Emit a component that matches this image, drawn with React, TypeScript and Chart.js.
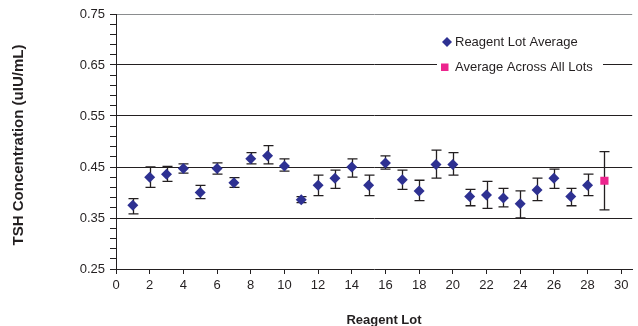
import React, { useEffect, useRef } from "react";
import { Chart, registerables } from "chart.js";

Chart.register(...registerables);

const lots = [1, 2, 3, 4, 5, 6, 7, 8, 9, 10, 11, 12, 13, 14, 15, 16, 17, 18, 19, 20, 21, 22, 23, 24, 25, 26, 27, 28];
const lotAvg = [0.375, 0.430, 0.436, 0.447, 0.400, 0.447, 0.419, 0.466, 0.472, 0.452, 0.386, 0.414, 0.428, 0.450, 0.414, 0.458, 0.425, 0.403, 0.455, 0.455, 0.392, 0.395, 0.389, 0.378, 0.405, 0.428, 0.392, 0.414];
const lotHigh = [0.388, 0.450, 0.451, 0.456, 0.414, 0.458, 0.429, 0.478, 0.492, 0.466, 0.392, 0.434, 0.444, 0.466, 0.434, 0.472, 0.444, 0.424, 0.483, 0.478, 0.406, 0.422, 0.408, 0.403, 0.428, 0.446, 0.408, 0.436];
const lotLow = [0.358, 0.410, 0.422, 0.438, 0.388, 0.436, 0.410, 0.456, 0.456, 0.442, 0.380, 0.394, 0.408, 0.430, 0.394, 0.446, 0.406, 0.384, 0.428, 0.434, 0.374, 0.369, 0.372, 0.350, 0.384, 0.408, 0.374, 0.394];

const allLotsX = [29];
const allLotsAvg = [0.423];
const allLotsHigh = [0.480];
const allLotsLow = [0.366];

const xTicks = [0, 2, 4, 6, 8, 10, 12, 14, 16, 18, 20, 22, 24, 26, 28, 30];
const yMajorTicks = [0.25, 0.35, 0.45, 0.55, 0.65, 0.75];
const yMinorStep = 0.02;

const seriesLabels = ["Reagent Lot Average", "Average Across All Lots"];
const xTitle = "Reagent Lot";
const yTitle = "TSH Concentration (uIU/mL)";

const INK = "#231F20";
const BLUE = "#2E3192";
const PINK = "#EC258E";
const FONT = "'Liberation Sans', Arial, Helvetica, sans-serif";

const isMajor = (v: number) => yMajorTicks.some((m) => Math.abs(m - v) < 1e-6);

const errorBarPlugin = {
  id: "errorBars",
  beforeDatasetsDraw(chart: any) {
    const ctx = chart.ctx;
    const yScale = chart.scales.y;
    ctx.save();
    ctx.strokeStyle = INK;
    ctx.lineWidth = 1.3;
    chart.data.datasets.forEach((ds: any, i: number) => {
      const meta = chart.getDatasetMeta(i);
      meta.data.forEach((pt: any, j: number) => {
        const hi = yScale.getPixelForValue(ds.errHigh[j]);
        const lo = yScale.getPixelForValue(ds.errLow[j]);
        const x = Math.round(pt.x) + 0.5;
        const cap = 5;
        ctx.beginPath();
        ctx.moveTo(x, hi);
        ctx.lineTo(x, lo);
        ctx.moveTo(x - cap, hi);
        ctx.lineTo(x + cap, hi);
        ctx.moveTo(x - cap, lo);
        ctx.lineTo(x + cap, lo);
        ctx.stroke();
      });
    });
    ctx.restore();
  },
};

const titlesPlugin = {
  id: "axisTitles",
  afterDraw(chart: any) {
    const ctx = chart.ctx;
    ctx.save();
    ctx.fillStyle = INK;
    ctx.textAlign = "center";
    ctx.textBaseline = "middle";
    ctx.font = `bold 13px ${FONT}`;
    ctx.fillText(xTitle, 384, 320);
    ctx.translate(19, 145);
    ctx.rotate(-Math.PI / 2);
    ctx.font = `bold 15px ${FONT}`;
    ctx.fillText(yTitle, 0, 0);
    ctx.restore();
  },
};

const legendPlugin = {
  id: "innerLegend",
  afterDraw(chart: any) {
    const ctx = chart.ctx;
    const ds = chart.data.datasets;
    ctx.save();
    ctx.fillStyle = "#ffffff";
    ctx.fillRect(437, 30, 166, 48);
    ctx.font = `13px ${FONT}`;
    ctx.textBaseline = "middle";
    ctx.textAlign = "left";
    ctx.fillStyle = ds[0].backgroundColor;
    ctx.beginPath();
    const dx = 447, dy = 42, r = 5;
    ctx.moveTo(dx - r, dy);
    ctx.lineTo(dx, dy - r);
    ctx.lineTo(dx + r, dy);
    ctx.lineTo(dx, dy + r);
    ctx.closePath();
    ctx.fill();
    ctx.fillStyle = INK;
    ctx.fillText(ds[0].label, 455, 42);
    ctx.fillStyle = ds[1].backgroundColor;
    ctx.fillRect(441, 63.5, 7.5, 7.5);
    ctx.fillStyle = INK;
    ctx.fillText(ds[1].label, 455, 67);
    ctx.restore();
  },
};

export default function App() {
  const ref = useRef<HTMLCanvasElement | null>(null);

  useEffect(() => {
    if (!ref.current) return;
    const chart = new Chart(ref.current, {
      type: "scatter",
      data: {
        datasets: [
          {
            label: seriesLabels[0],
            data: lots.map((x, i) => ({ x, y: lotAvg[i] })),
            errHigh: lotHigh,
            errLow: lotLow,
            pointStyle: "rectRot",
            pointRadius: 5.5,
            backgroundColor: BLUE,
            borderColor: BLUE,
            borderWidth: 0,
          } as any,
          {
            label: seriesLabels[1],
            data: allLotsX.map((x, i) => ({ x, y: allLotsAvg[i] })),
            errHigh: allLotsHigh,
            errLow: allLotsLow,
            pointStyle: "rect",
            pointRadius: 5.8,
            backgroundColor: PINK,
            borderColor: PINK,
            borderWidth: 0,
          } as any,
        ],
      },
      options: {
        animation: false,
        responsive: true,
        maintainAspectRatio: false,
        layout: { padding: { top: 14, right: 1, left: 0, bottom: 0 } },
        plugins: {
          legend: { display: false },
          tooltip: { enabled: false },
        },
        scales: {
          x: {
            type: "linear",
            min: 0,
            max: 30.65,
            afterBuildTicks: (scale: any) => {
              scale.ticks = xTicks.map((v) => ({ value: v }));
            },
            afterFit: (scale: any) => {
              scale.height = 57;
            },
            border: { display: true, color: INK, width: 1 },
            grid: {
              drawOnChartArea: false,
              drawTicks: true,
              tickLength: 5,
              tickColor: INK,
              color: INK,
            },
            ticks: {
              padding: 4,
              color: INK,
              font: { family: FONT, size: 13 },
              maxRotation: 0,
              autoSkip: false,
            },
            title: { display: false, text: xTitle },
          },
          y: {
            type: "linear",
            min: 0.25,
            max: 0.75,
            afterBuildTicks: (scale: any) => {
              const vals: number[] = [];
              const lo = yMajorTicks[0];
              const hi = yMajorTicks[yMajorTicks.length - 1];
              const n = Math.round((hi - lo) / yMinorStep);
              for (let k = 0; k <= n; k++) vals.push(Math.round((lo + k * yMinorStep) * 1000) / 1000);
              yMajorTicks.forEach((m) => {
                if (!vals.some((v) => Math.abs(v - m) < 1e-6)) vals.push(m);
              });
              vals.sort((a, b) => a - b);
              scale.ticks = vals.map((v) => ({ value: v }));
            },
            afterFit: (scale: any) => {
              scale.width = 116;
            },
            border: { display: true, color: INK, width: 1 },
            grid: {
              drawOnChartArea: true,
              drawTicks: true,
              tickLength: 6,
              tickColor: INK,
              color: (c: any) => {
                const v = c.tick ? c.tick.value : null;
                if (v == null) return "rgba(0,0,0,0)";
                if (Math.abs(v - 0.75) < 1e-6) return "#8A8C8E";
                if (Math.abs(v - 0.25) < 1e-6) return "rgba(0,0,0,0)";
                return isMajor(v) ? INK : "rgba(0,0,0,0)";
              },
            },
            ticks: {
              padding: 5,
              color: INK,
              autoSkip: false,
              font: { family: FONT, size: 13 },
              callback: (v: any) => (isMajor(Number(v)) ? Number(v).toFixed(2) : ""),
            },
            title: { display: false, text: yTitle },
          },
        },
      } as any,
      plugins: [errorBarPlugin, legendPlugin, titlesPlugin],
    });
    return () => chart.destroy();
  }, []);

  return (
    <div style={{ position: "absolute", left: 0, top: 0, width: 638, height: 326, background: "#ffffff" }}>
      <canvas ref={ref} />
    </div>
  );
}
